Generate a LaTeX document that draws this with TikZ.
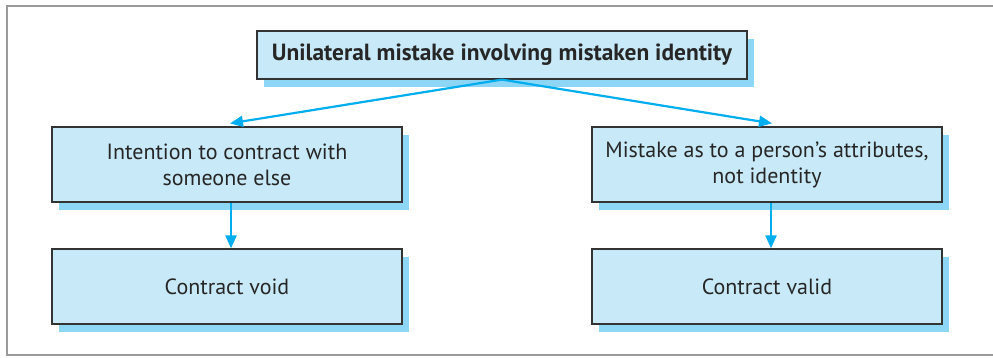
\documentclass[tikz,border=0pt]{standalone}
\usepackage{fontspec}
\setmainfont{PT Sans}
\usetikzlibrary{arrows.meta,shadows,calc}
\definecolor{boxfill}{HTML}{C8E9F8}
\definecolor{shadowblue}{HTML}{8DD6F5}
\definecolor{arrowblue}{HTML}{00AEEF}
\definecolor{framegray}{HTML}{9A9A9A}
\definecolor{borderdark}{HTML}{333333}
\tikzset{
  boxnode/.style={draw=borderdark, line width=1.2pt, fill=boxfill, align=center,
    inner sep=0pt, font=\fontsize{22}{26}\selectfont, text=black!85,
    drop shadow={shadow xshift=7pt, shadow yshift=-8pt, fill=shadowblue, opacity=1}},
  conn/.style={draw=arrowblue, line width=2.2pt, -{Triangle[width=11pt,length=13pt]}}
}
\begin{document}
\begin{tikzpicture}[x=1pt,y=1pt]
\useasboundingbox (0,0) rectangle (993,357);
\draw[framegray, line width=2.2pt] (1000,2) -- (7,2) -- (7,351) -- (1000,351);
\node[boxnode, minimum width=490pt, minimum height=48pt, font=\fontsize{23.4}{26}\selectfont\bfseries] (top) at (502,302) {Unilateral mistake involving mistaken identity};
\node[boxnode, minimum width=350pt, minimum height=75pt] (l1) at (227,192.5) {Intention to contract with\\someone else};
\node[boxnode, minimum width=350pt, minimum height=75pt] (l2) at (227,70.5) {Contract void};
\node[boxnode, minimum width=350pt, minimum height=75pt] (r1) at (767,192.5) {Mistake as to a person’s attributes,\\not identity};
\node[boxnode, minimum width=350pt, minimum height=75pt] (r2) at (767,70.5) {Contract valid};
\coordinate (lt) at ($(l1.north)+(3,3)$);
\coordinate (rt) at ($(r1.north)+(5,3)$);
\draw[conn] (top.south) -- (lt);
\draw[conn] (top.south) -- (rt);
\draw[conn] ([xshift=4pt]l1.south) -- ([xshift=4pt]l2.north);
\draw[conn] ([xshift=4pt]r1.south) -- ([xshift=4pt]r2.north);
\end{tikzpicture}
\end{document}
